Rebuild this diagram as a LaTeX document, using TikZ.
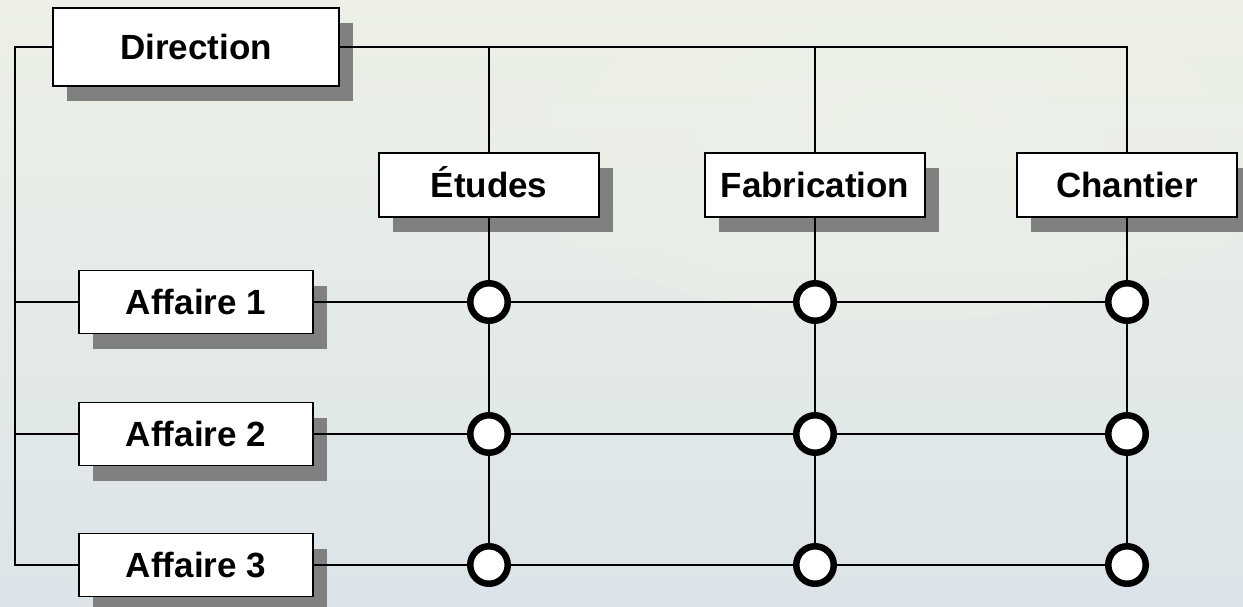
\documentclass[tikz,border=0pt]{standalone}
\usepackage{fontspec}
\setmainfont{Liberation Sans}
\usetikzlibrary{shadows}
\definecolor{skyA}{HTML}{ECF0E6}
\definecolor{skyB}{HTML}{DCE4E9}
\definecolor{skyC}{HTML}{EEF3EA}
\definecolor{shade}{HTML}{808080}
\tikzset{
  box/.style={draw=black, line width=1.8pt, fill=white, rectangle, inner sep=0pt,
    font=\fontsize{35}{38}\selectfont\bfseries, text height=25pt, text depth=0pt,
    drop shadow={shadow xshift=14pt, shadow yshift=-15pt, fill=shade, opacity=1}},
  dept/.style={box, minimum width=220pt, minimum height=64pt},
  affaire/.style={box, minimum width=234pt, minimum height=63pt},
  joint/.style={circle, draw=black, line width=6.5pt, fill=white, minimum size=37.5pt, inner sep=0pt},
  link/.style={draw=black, line width=1.8pt}
}
\begin{document}
\begin{tikzpicture}[x=1pt, y=-1pt]
  \useasboundingbox (0,0) rectangle (1243,606);
  % sky backdrop
  \begin{scope}
    \clip (0,0) rectangle (1243,606);
    \shade[top color=skyA, bottom color=skyB] (0,0) rectangle (1243,606);
    \shade[inner color=skyC, outer color=skyA, opacity=0.4] (900,120) ellipse (420 and 200);
  \end{scope}

  % boxes
  \node[box, minimum width=286pt, minimum height=78pt] (dir) at (196,47) {Direction};
  \node[dept] (etu) at (489,185) {Études};
  \node[dept] (fab) at (815,185) {Fabrication};
  \node[dept] (cha) at (1127,185) {Chantier};
  \node[affaire] (a1) at (196,302) {Affaire 1};
  \node[affaire] (a2) at (196,434) {Affaire 2};
  \node[affaire] (a3) at (196,565) {Affaire 3};

  % matrix joints
  \foreach \r/\y in {1/302,2/434,3/565}{
    \node[joint] (c\r1) at (etu.center |- 0,\y) {};
    \node[joint] (c\r2) at (fab.center |- 0,\y) {};
    \node[joint] (c\r3) at (cha.center |- 0,\y) {};
  }

  % spine on the left
  \coordinate (spTop) at (15,47);
  \coordinate (spBot) at (15,565);
  \path[link] (dir.west) -- (spTop) -- (spBot) -- (a3.west);
  \path[link] (spTop |- a1.west) -- (a1.west);
  \path[link] (spTop |- a2.west) -- (a2.west);

  % top bus
  \path[link] (dir.east) -| (cha.north);
  \path[link] (dir.east -| etu.north) -- (etu.north);
  \path[link] (dir.east -| fab.north) -- (fab.north);

  % columns
  \path[link] (etu.south) -- (c11);
  \path[link] (fab.south) -- (c12);
  \path[link] (cha.south) -- (c13);
  \foreach \c in {1,2,3}{
    \path[link] (c1\c) -- (c2\c);
    \path[link] (c2\c) -- (c3\c);
  }

  % rows
  \path[link] (a1.east) -- (c11) -- (c12) -- (c13);
  \path[link] (a2.east) -- (c21) -- (c22) -- (c23);
  \path[link] (a3.east) -- (c31) -- (c32) -- (c33);
\end{tikzpicture}
\end{document}
